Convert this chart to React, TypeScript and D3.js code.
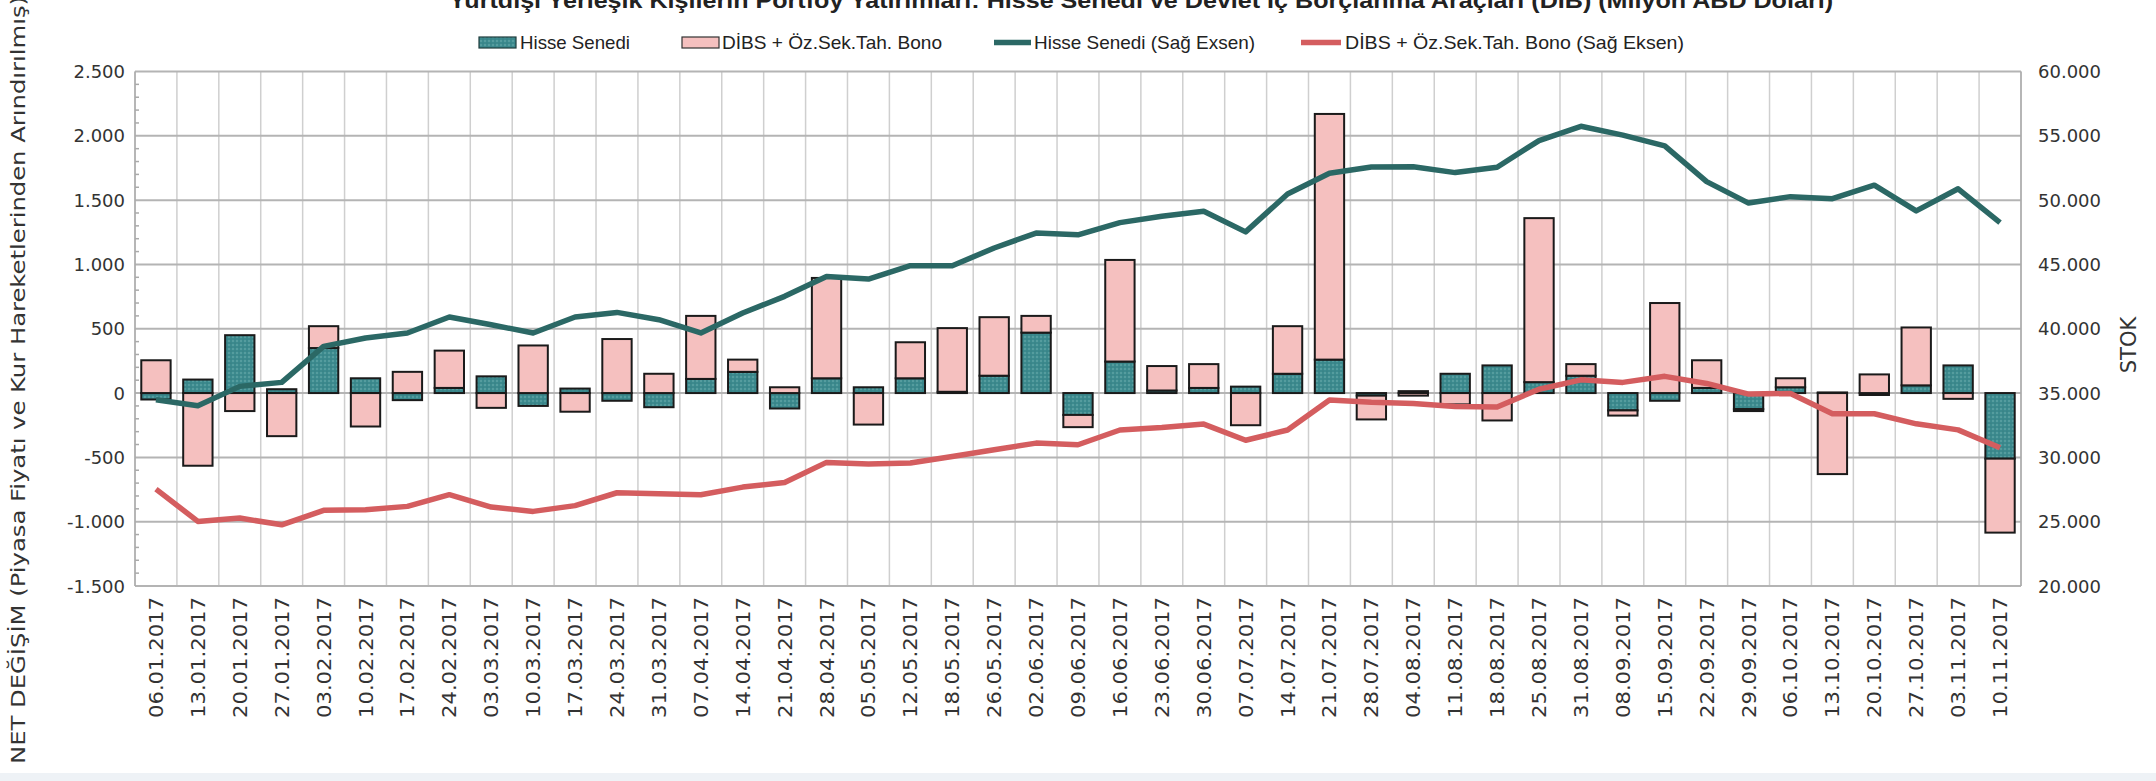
import * as d3 from "d3";

// weekly dates (x axis)
const dates = [
  "06.01.2017", "13.01.2017", "20.01.2017", "27.01.2017", "03.02.2017", "10.02.2017",
  "17.02.2017", "24.02.2017", "03.03.2017", "10.03.2017", "17.03.2017", "24.03.2017",
  "31.03.2017", "07.04.2017", "14.04.2017", "21.04.2017", "28.04.2017", "05.05.2017",
  "12.05.2017", "18.05.2017", "26.05.2017", "02.06.2017", "09.06.2017", "16.06.2017",
  "23.06.2017", "30.06.2017", "07.07.2017", "14.07.2017", "21.07.2017", "28.07.2017",
  "04.08.2017", "11.08.2017", "18.08.2017", "25.08.2017", "31.08.2017", "08.09.2017",
  "15.09.2017", "22.09.2017", "29.09.2017", "06.10.2017", "13.10.2017", "20.10.2017",
  "27.10.2017", "03.11.2017", "10.11.2017",
];

// net change, left axis (bars)
const hisseNet = [
  -50, 105, 450, 30, 350, 115, -55, 40, 130, -100, 35, -60, -110, 110, 165, -120, 115, 45,
  115, 10, 135, 470, -170, 245, 20, 40, 50, 150, 260, -20, 15, 150, 215, 85, 135, -135,
  -60, 40, -125, 45, 5, -15, 60, 215, -510,
];
const dibsNet = [
  255, -565, -140, -335, 170, -260, 165, 290, -115, 370, -145, 420, 150, 490, 95, 45, 780,
  -245, 280, 495, 455, 130, -95, 790, 190, 185, -250, 370, 1910, -185, -20, -88, -213,
  1275, 90, -40, 700, 215, -15, 70, -630, 145, 450, -45, -575,
];

// stock, right axis (lines)
const hisseStok = [
  34480, 34020, 35520, 35830, 38630, 39280, 39670, 40910, 40310, 39670, 40910, 41270,
  40700, 39670, 41220, 42520, 44070, 43860, 44900, 44900, 46280, 47440, 47300, 48250,
  48740, 49140, 47530, 50480, 52090, 52570, 52600, 52140, 52560, 54630, 55740, 55050,
  54220, 51440, 49770, 50270, 50110, 51160, 49160, 50880, 48250,
];
const dibsStok = [
  27535, 25020, 25280, 24760, 25880, 25930, 26190, 27100, 26140, 25800, 26250, 27250,
  27170, 27100, 27690, 28050, 29610, 29480, 29560, 30070, 30590, 31110, 30980, 32130,
  32320, 32590, 31330, 32130, 34460, 34280, 34180, 33960, 33910, 35300, 36030, 35830,
  36300, 35750, 34920, 34970, 33390, 33390, 32610, 32140, 30750,
];

const leftTicks = [-1500, -1000, -500, 0, 500, 1000, 1500, 2000, 2500];
const rightTicks = [20000, 25000, 30000, 35000, 40000, 45000, 50000, 55000, 60000];

const title =
  "Yurtdışı Yerleşik Kişilerin Portföy Yatırımları: Hisse Senedi ve Devlet İç Borçlanma Araçları (DİB) (Milyon ABD Doları)";

const W = 2156;
const H = 781;
const plot = { left: 135, right: 2021, top: 71.5, bottom: 586 };

const TEAL_LINE = "#2b6865";
const RED_LINE = "#d45d5f";
const PINK = "#f5c0bf";
const GRID_H = "#b4b4b4";
const GRID_V = "#cfcfcf";

const fmt = d3
  .formatLocale({ decimal: ",", thousands: ".", grouping: [3], currency: ["", ""], minus: "-" })
  .format(",d");

export default function App() {
  const x = d3.scaleBand<string>().domain(dates).range([plot.left, plot.right]);
  const bw = x.bandwidth() * 0.7;
  const cx = (d: string) => (x(d) ?? 0) + x.bandwidth() / 2;

  const yL = d3.scaleLinear().domain([-1500, 2500]).range([plot.bottom, plot.top]);
  const yR = d3.scaleLinear().domain([20000, 60000]).range([plot.bottom, plot.top]);

  const rows = dates.map((d, i) => ({ date: d, hisse: hisseNet[i], dibs: dibsNet[i] }));
  const stacked = d3
    .stack<(typeof rows)[0]>()
    .keys(["hisse", "dibs"])
    .offset(d3.stackOffsetDiverging)(rows);

  const line = d3
    .line<number>()
    .x((_, i) => cx(dates[i]))
    .y((v) => yR(v));

  const minorTicks = d3.range(-1500, 2501, 100).filter((v) => v % 500 !== 0);
  const boundaries = dates.map((d) => x(d) ?? 0).concat([plot.right]);

  const tickFont = { fontFamily: "DejaVu Sans, Verdana, sans-serif", fontSize: 18, fill: "#333" };
  const legendFont = { fontFamily: "Liberation Sans, Arial, sans-serif", fontSize: 19, fill: "#222" };

  return (
    <svg width={W} height={H} style={{ display: "block", background: "#fff" }}>
      <style>{`body{margin:0}`}</style>
      <defs>
        <pattern id="dots" width="4" height="4" patternUnits="userSpaceOnUse">
          <rect width="4" height="4" fill="#3c8a8e" />
          <circle cx="1" cy="1" r="0.8" fill="#74b3b3" />
          <circle cx="3" cy="3" r="0.6" fill="#2f7478" />
        </pattern>
      </defs>

      {/* bottom frame strip */}
      <rect x={0} y={773} width={W} height={H - 773} fill="#eef2f6" />

      {/* title, cut off at the top as in the source */}
      <text
        x={1141}
        y={8}
        textAnchor="middle"
        textLength={1384}
        lengthAdjust="spacingAndGlyphs"
        style={{ fontFamily: "Liberation Sans, Arial, sans-serif", fontSize: 22, fontWeight: 700, fill: "#222" }}
      >
        {title}
      </text>

      {/* legend */}
      <g>
        <rect x={479} y={37} width={37} height={11} fill="url(#dots)" stroke="#1e3d3d" strokeWidth={1.2} />
        <text x={520} y={49} textLength={110} lengthAdjust="spacingAndGlyphs" style={legendFont}>
          Hisse Senedi
        </text>
        <rect x={682} y={37} width={37} height={11} fill={PINK} stroke="#333" strokeWidth={1.2} />
        <text x={722} y={49} textLength={220} lengthAdjust="spacingAndGlyphs" style={legendFont}>
          DİBS + Öz.Sek.Tah. Bono
        </text>
        <line x1={994} x2={1031} y1={42.5} y2={42.5} stroke={TEAL_LINE} strokeWidth={5.5} />
        <text x={1034} y={49} textLength={221} lengthAdjust="spacingAndGlyphs" style={legendFont}>
          Hisse Senedi (Sağ Exsen)
        </text>
        <line x1={1301} x2={1341} y1={42.5} y2={42.5} stroke={RED_LINE} strokeWidth={5.5} />
        <text x={1345} y={49} textLength={339} lengthAdjust="spacingAndGlyphs" style={legendFont}>
          DİBS + Öz.Sek.Tah. Bono (Sağ Eksen)
        </text>
      </g>

      {/* vertical gridlines at category boundaries */}
      {boundaries.map((bx, i) => (
        <line key={"v" + i} x1={bx} x2={bx} y1={plot.top} y2={plot.bottom} stroke={GRID_V} strokeWidth={1.5} />
      ))}

      {/* horizontal gridlines */}
      {leftTicks.map((t) => (
        <line key={"h" + t} x1={plot.left} x2={plot.right} y1={yL(t)} y2={yL(t)} stroke={GRID_H} strokeWidth={2} />
      ))}

      {/* axis lines and minor ticks */}
      <line x1={plot.left} x2={plot.left} y1={plot.top} y2={plot.bottom} stroke="#aaa" strokeWidth={1.5} />
      <line x1={plot.right} x2={plot.right} y1={plot.top} y2={plot.bottom} stroke="#aaa" strokeWidth={1.5} />
      {minorTicks.map((t) => (
        <line key={"m" + t} x1={plot.left} x2={plot.left + 4} y1={yL(t)} y2={yL(t)} stroke="#aaa" strokeWidth={1.5} />
      ))}

      {/* stacked bars */}
      {stacked.map((s) => (
        <g key={s.key}>
          {s.map((p, i) => {
            const y0 = yL(p[0]);
            const y1 = yL(p[1]);
            if (Math.abs(y1 - y0) < 0.01) return null;
            return (
              <rect
                key={i}
                x={(x(dates[i]) ?? 0) + (x.bandwidth() - bw) / 2}
                y={Math.min(y0, y1)}
                width={bw}
                height={Math.abs(y1 - y0)}
                fill={s.key === "hisse" ? "url(#dots)" : PINK}
                stroke="#1a1a1a"
                strokeWidth={2}
              />
            );
          })}
        </g>
      ))}

      {/* stock lines on right axis */}
      <path d={line(dibsStok) ?? ""} fill="none" stroke={RED_LINE} strokeWidth={5.5} strokeLinejoin="round" />
      <path d={line(hisseStok) ?? ""} fill="none" stroke={TEAL_LINE} strokeWidth={5.5} strokeLinejoin="round" />

      {/* left ticks */}
      {leftTicks.map((t) => (
        <text key={"lt" + t} x={125} y={yL(t) + 6.5} textAnchor="end" style={tickFont}>
          {fmt(t)}
        </text>
      ))}

      {/* right ticks */}
      {rightTicks.map((t) => (
        <text key={"rt" + t} x={2038} y={yR(t) + 6.5} textAnchor="start" style={tickFont}>
          {fmt(t)}
        </text>
      ))}

      {/* x labels */}
      {dates.map((d) => (
        <text
          key={"x" + d}
          transform={`translate(${cx(d) + 7},${597}) rotate(-90)`}
          textAnchor="end"
          textLength={121}
          lengthAdjust="spacingAndGlyphs"
          style={{ fontFamily: "DejaVu Sans, Verdana, sans-serif", fontSize: 20, fill: "#333" }}
        >
          {d}
        </text>
      ))}

      {/* axis titles */}
      <text
        transform={`translate(25,764) rotate(-90)`}
        textAnchor="start"
        textLength={768}
        lengthAdjust="spacingAndGlyphs"
        style={{ fontFamily: "DejaVu Sans, Verdana, sans-serif", fontSize: 20, fill: "#333" }}
      >
        NET DEĞİŞİM (Piyasa Fiyatı ve Kur Hareketlerinden Arındırılmış)
      </text>
      <text
        transform={`translate(2136,345) rotate(-90)`}
        textAnchor="middle"
        style={{ fontFamily: "DejaVu Sans, Verdana, sans-serif", fontSize: 21, fill: "#333" }}
      >
        STOK
      </text>
    </svg>
  );
}
